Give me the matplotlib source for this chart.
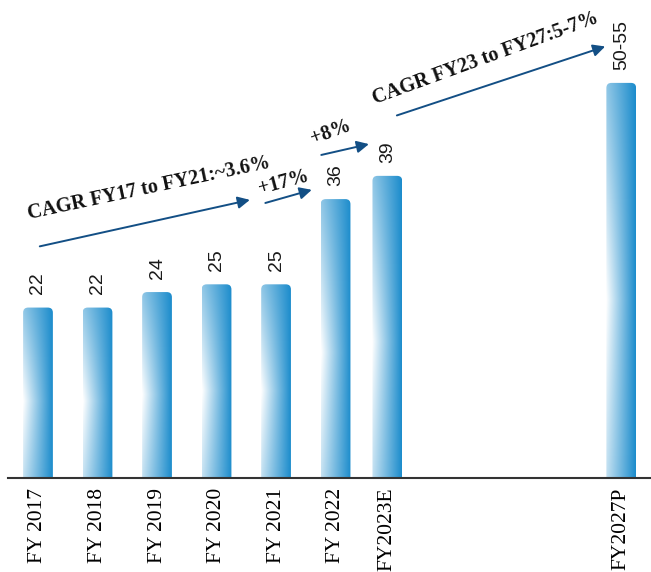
import numpy as np
import matplotlib.pyplot as plt
from matplotlib.patches import FancyBboxPatch

# Chart data
years = ['FY 2017', 'FY 2018', 'FY 2019', 'FY 2020', 'FY 2021', 'FY 2022', 'FY2023E', 'FY2027P']
values = [22, 22, 24, 25, 25, 36, 39, 51]
value_labels = ['22', '22', '24', '25', '25', '36', '39', '50-55']
growth_texts = ['CAGR FY17 to FY21:~3.6%', '+17%', '+8%', 'CAGR FY23 to FY27:5-7%']

# Layout
x_pos = [0, 1, 2, 3, 4, 5, 5.87, 9.8]
bar_w = 0.5
arrow_color = '#134f85'

fig = plt.figure(figsize=(6.51, 5.72), dpi=100)
ax = fig.add_axes([8 / 651, 94 / 572, 643 / 651, 478 / 572])

xlim = (-0.504, 10.30)
ylim = (0, 61.7)
# px per data unit in x and y, used for rounding the bar tops
aspect = (643 / (xlim[1] - xlim[0])) / (478 / (ylim[1] - ylim[0]))

# gradient for the bars: white at left-middle, blue on the right
blue = np.array([0.11, 0.55, 0.80])
u, v = np.meshgrid(np.linspace(0, 1, 60), np.linspace(0, 1, 200))
a = np.where(v > 0.45, 0.49 * (v - 0.45) / 0.55, 0.26 * (0.45 - v) / 0.45)
s = a + (1 - a) * u
grad = (1 - s)[..., None] * np.ones(3) + s[..., None] * blue

for x, h in zip(x_pos, values):
    patch = FancyBboxPatch((x - bar_w / 2, -2), bar_w, h + 2,
                           boxstyle='round,pad=0,rounding_size=0.085',
                           mutation_aspect=aspect, transform=ax.transData,
                           fc='none', ec='none')
    ax.add_patch(patch)
    im = ax.imshow(grad, extent=[x - bar_w / 2, x + bar_w / 2, 0, h], origin='lower',
                   aspect='auto', interpolation='bilinear')
    im.set_clip_path(patch)

for x, h, lab in zip(x_pos, values, value_labels):
    ax.annotate(lab, (x, h), xytext=(0, 9.5), textcoords='offset points',
                rotation=90, ha='center', va='bottom', fontsize=14,
                family='Liberation Sans', color='#1a1a1a')

# growth arrows
arrows = [((0.03, 29.9), (3.56, 35.9)),
          ((3.82, 35.5), (4.6, 37.2)),
          ((4.76, 41.7), (5.56, 43.1)),
          ((6.03, 46.8), (9.53, 55.7))]
for start, end in arrows:
    ax.annotate('', xy=end, xytext=start,
                arrowprops=dict(arrowstyle='-|>', color=arrow_color, lw=1.4,
                                mutation_scale=18, shrinkA=0, shrinkB=0))

text_pos = [(1.87, 37.4, 12), (4.12, 38.2, 15), (4.92, 44.6, 20), (7.52, 54.2, 20)]
for (x, y, rot), t in zip(text_pos, growth_texts):
    ax.text(x, y, t, rotation=rot, rotation_mode='anchor', ha='center', va='center',
            fontsize=14.5, fontweight='bold', family='Liberation Serif', color='#111111')

ax.set_xlim(*xlim)
ax.set_ylim(*ylim)
ax.set_xticks(x_pos)
ax.set_xticklabels(years, rotation=90, family='Liberation Serif', fontsize=15.5)
ax.tick_params(axis='x', length=0, pad=7)
ax.set_yticks([])
for side in ['top', 'right', 'left']:
    ax.spines[side].set_visible(False)
ax.spines['bottom'].set_color('#333333')
ax.spines['bottom'].set_linewidth(1.5)

plt.savefig('out.png', dpi=100)
